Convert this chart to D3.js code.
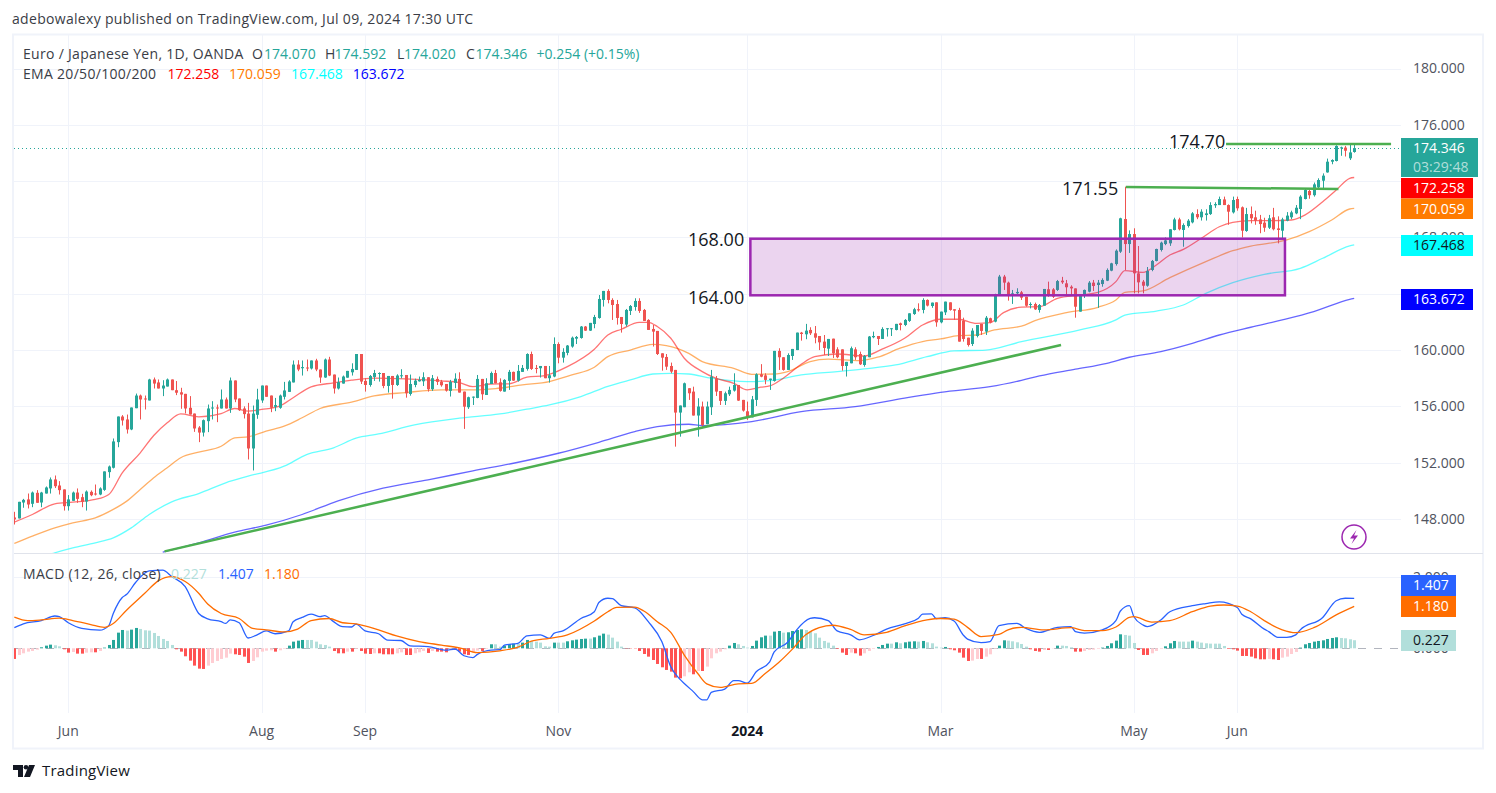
<!DOCTYPE html>
<html>
<head>
<meta charset="utf-8">
<script src="https://cdn.jsdelivr.net/npm/d3@7"></script>
<style>
  html, body { margin: 0; padding: 0; background: #fff; }
  svg { display: block; }
  text { font-family: "Open Sans", Roboto, "Liberation Sans", sans-serif; }
</style>
</head>
<body>
<svg id="chart" width="1496" height="793"></svg>
<script>
// daily candles, 10 per row
var opens = [
  148.11,148.04,149.17,149.39,149.08,149.86,149.17,149.81,150.17,150.81,
  150.38,150.10,148.91,149.29,149.88,149.55,149.24,149.93,149.81,149.74,
  150.07,151.33,151.64,153.46,155.28,155.07,154.36,155.87,156.77,156.56,
  156.42,157.91,157.70,157.27,157.41,157.91,157.15,157.00,156.89,155.90,
  155.49,154.50,154.14,154.95,155.85,155.92,155.85,156.49,155.85,157.84,
  156.56,155.85,155.49,153.01,155.40,156.42,157.48,156.77,155.97,155.90,
  156.68,157.03,157.70,158.97,158.71,158.76,158.69,159.26,158.62,158.05,
  159.33,158.26,157.27,157.62,158.04,158.42,158.59,159.72,157.81,157.52,
  158.09,158.30,158.37,157.45,158.16,157.52,158.16,158.23,156.88,157.52,
  157.78,157.78,158.07,157.22,157.95,157.76,157.59,157.10,157.67,157.95,
  157.05,155.94,156.65,156.60,157.95,156.81,157.59,158.37,157.71,157.05,
  157.81,158.45,157.83,158.45,158.66,159.72,158.73,158.71,158.87,158.00,
  158.12,160.43,159.46,159.80,160.25,160.81,160.86,161.67,161.38,161.85,
  162.28,163.56,164.20,163.56,163.27,162.35,161.81,162.78,163.06,163.49,
  162.85,162.14,161.50,161.36,159.77,159.51,158.87,158.59,155.56,155.94,
  157.29,157.05,155.35,155.99,154.73,155.94,157.99,157.09,156.39,156.86,
  157.12,157.52,156.46,155.65,155.22,156.46,158.28,158.20,157.88,157.81,
  159.94,159.49,158.59,159.58,160.00,161.24,161.12,161.43,161.19,161.00,
  160.60,160.10,160.81,160.05,160.05,158.87,159.06,160.05,159.72,158.94,
  159.49,160.91,161.00,160.79,161.50,161.50,161.43,161.90,161.78,162.07,
  162.56,162.90,162.85,163.56,163.13,163.39,161.97,162.68,163.39,162.90,
  162.85,162.09,160.88,160.43,161.00,161.86,161.31,162.26,162.02,163.87,
  165.22,164.79,163.87,164.03,164.10,163.79,163.20,163.27,162.85,163.15,
  164.32,164.31,164.27,164.93,164.74,164.50,164.38,162.73,163.84,164.15,
  164.79,164.62,164.69,164.93,165.64,166.11,166.99,169.31,167.53,168.24,
  165.45,164.86,164.57,165.69,166.33,167.11,167.53,167.58,168.53,169.28,
  168.53,168.81,169.07,169.66,169.43,169.59,169.66,170.28,170.30,170.70,
  170.30,169.78,170.73,170.14,168.46,169.66,169.43,169.28,169.05,168.69,
  169.43,168.64,168.48,169.19,169.43,169.71,170.02,170.73,171.30,171.00,
  171.56,172.03,172.62,173.38,173.43,174.36,174.38,173.62,174.07
];
var highs = [
  148.51,149.22,149.43,149.81,149.95,150.05,149.93,150.31,150.95,151.09,
  150.69,150.10,149.70,149.95,150.17,149.79,150.03,150.03,150.45,150.25,
  151.38,151.80,153.72,155.28,155.38,155.42,155.92,156.91,156.84,156.77,
  157.96,158.05,157.91,157.86,157.98,157.91,157.80,157.32,156.89,156.73,
  155.49,154.60,155.07,156.13,156.37,156.13,157.20,156.63,158.05,157.84,
  156.56,156.00,156.25,156.06,157.25,157.48,157.48,156.77,156.60,156.84,
  157.74,157.86,159.26,159.28,159.26,159.33,159.26,159.38,158.62,159.40,
  159.52,158.26,158.05,158.19,158.52,159.06,159.72,159.72,158.00,158.23,
  158.59,158.42,158.37,158.16,158.16,158.28,158.64,158.23,158.26,157.97,
  158.12,158.42,158.07,158.23,158.12,157.88,157.59,157.88,158.35,158.42,
  157.05,156.69,156.70,158.23,157.95,158.00,158.47,158.59,157.99,157.93,
  158.59,158.47,158.94,158.94,159.77,159.89,158.94,158.87,158.87,158.87,
  160.90,160.55,160.13,160.36,160.96,161.00,161.71,161.71,161.93,162.50,
  163.91,164.20,164.32,163.68,163.56,162.35,162.92,163.20,163.68,163.68,
  162.92,162.19,161.78,161.36,159.77,159.72,159.11,158.59,156.06,157.69,
  157.29,157.40,156.58,156.34,156.34,158.59,158.16,157.09,157.05,157.40,
  158.35,157.52,156.46,156.34,156.74,158.35,159.00,158.35,157.97,159.94,
  160.13,159.49,159.77,160.08,161.24,161.29,161.86,161.62,161.71,161.00,
  161.07,160.79,160.81,160.20,160.05,159.16,160.25,160.20,159.89,159.65,
  161.00,161.31,161.00,161.62,161.55,161.55,161.86,161.95,162.20,162.61,
  163.00,163.32,163.68,163.60,163.37,163.39,162.73,163.44,163.39,162.90,
  163.00,162.30,160.88,161.55,161.78,161.86,162.42,162.30,164.00,165.34,
  165.34,164.86,164.27,164.39,164.20,163.79,163.39,163.37,163.27,164.34,
  164.86,164.40,164.98,165.20,164.98,164.60,164.38,163.96,164.30,164.90,
  164.98,164.98,165.10,165.80,166.20,167.15,169.40,171.60,168.50,168.65,
  167.39,164.98,165.90,166.40,167.20,167.70,168.00,168.58,169.40,169.40,
  169.00,169.30,169.80,170.00,170.00,170.00,170.50,170.50,170.90,170.90,
  170.35,170.90,170.90,170.20,170.10,170.20,169.90,169.60,169.40,169.60,
  170.10,169.50,169.40,169.80,169.90,170.30,171.00,171.45,171.40,171.90,
  172.20,172.55,173.60,173.55,174.55,174.45,174.50,174.65,174.592
];
var lows = [
  147.61,148.04,148.80,148.75,148.84,149.15,148.84,149.81,149.81,150.20,
  149.74,148.60,148.60,149.29,149.15,148.84,148.60,149.62,149.67,149.69,
  150.00,150.93,151.59,153.10,154.64,154.07,154.31,155.87,155.07,155.78,
  156.42,157.27,157.27,156.73,157.41,157.15,156.80,155.83,155.50,155.42,
  154.19,153.46,153.86,154.17,155.07,154.88,155.85,155.85,155.54,156.30,
  155.68,155.14,152.23,151.45,155.12,156.25,156.68,155.59,155.66,155.83,
  156.49,157.03,157.70,158.50,158.19,158.50,158.62,158.50,157.67,158.03,
  158.15,156.91,157.20,157.62,158.04,158.19,158.59,157.59,157.05,157.40,
  157.81,157.76,157.29,156.98,156.55,157.45,157.99,156.62,156.76,157.36,
  157.76,157.45,157.05,157.10,157.52,157.40,157.05,156.70,157.29,156.98,
  154.40,155.82,156.10,156.58,156.46,156.81,157.59,157.64,157.05,157.05,
  157.17,157.81,157.76,158.45,158.54,158.59,158.35,158.05,158.00,157.69,
  158.07,159.06,159.11,159.63,160.17,160.43,160.81,161.36,161.36,161.55,
  162.23,163.09,163.32,162.14,161.81,161.24,161.67,162.49,162.80,162.64,
  162.07,161.43,160.25,159.65,158.54,158.59,158.35,153.14,153.85,155.94,
  156.46,155.35,153.85,154.45,154.73,155.39,156.74,156.10,156.10,156.74,
  157.05,156.39,155.63,155.04,155.22,156.03,158.07,157.57,157.17,157.76,
  158.59,158.54,158.59,159.30,160.00,160.67,160.77,161.07,160.48,160.00,
  159.65,159.58,159.44,159.42,158.54,158.12,159.06,159.30,158.94,158.82,
  159.49,160.84,160.36,160.79,160.96,161.00,161.40,161.40,161.70,162.00,
  162.50,162.73,162.61,163.10,163.00,161.66,161.90,162.49,162.80,162.14,
  160.60,160.60,160.25,160.29,160.90,161.07,161.07,161.90,161.97,163.87,
  164.27,163.51,163.28,163.98,163.56,163.08,162.96,162.85,162.66,163.15,
  163.79,163.70,164.20,164.70,163.87,163.87,162.30,162.73,163.70,164.10,
  164.20,163.00,164.50,164.90,165.60,166.00,166.90,165.69,166.90,164.03,
  164.03,164.03,164.50,165.60,166.30,167.00,167.45,167.40,168.50,168.50,
  167.34,168.70,169.00,169.30,169.20,169.20,169.60,170.10,170.30,170.30,
  168.90,169.70,169.90,168.00,168.40,169.00,168.90,168.30,168.40,168.60,
  168.50,167.58,167.93,169.15,169.30,169.65,169.30,170.70,170.75,170.90,
  171.40,171.50,172.60,173.20,173.40,173.80,173.75,173.50,174.02
];
var closes = [
  147.97,149.22,149.36,149.03,149.88,149.15,149.88,150.24,150.81,150.33,
  150.05,148.91,149.39,149.88,149.43,149.22,149.95,149.69,149.74,150.17,
  151.38,151.73,153.51,155.28,155.00,154.36,155.92,156.77,156.49,156.49,
  157.91,157.62,157.27,157.48,157.91,157.15,156.97,156.84,155.85,155.42,
  154.43,154.14,155.02,155.85,155.92,155.85,156.49,155.85,157.84,156.49,
  155.73,155.45,153.01,155.49,156.49,157.48,156.68,155.90,156.09,156.77,
  157.13,157.77,158.97,158.62,158.79,158.69,159.26,158.62,158.05,159.33,
  158.19,157.27,157.72,158.12,158.52,158.66,159.72,157.76,157.52,158.16,
  158.37,158.37,157.45,158.16,157.52,158.19,158.21,156.93,157.59,157.83,
  157.88,158.07,157.22,158.00,157.74,157.50,157.12,157.74,157.97,156.98,
  155.98,156.65,156.69,157.95,156.86,157.64,158.37,157.64,157.10,157.88,
  158.45,157.83,158.52,158.73,159.72,158.66,158.68,158.87,158.00,158.21,
  160.43,159.46,159.87,160.32,160.88,160.93,161.67,161.38,161.93,162.35,
  163.63,164.20,163.56,163.20,162.28,161.85,162.85,163.13,163.49,162.78,
  162.07,161.43,161.31,159.72,159.46,158.82,158.47,155.56,156.06,157.64,
  156.93,155.35,155.99,154.68,155.99,158.11,157.05,156.39,156.93,157.17,
  157.52,156.41,155.70,155.27,156.50,158.28,158.11,157.88,157.97,159.94,
  159.49,158.59,159.65,160.08,161.24,161.14,161.38,161.19,160.88,160.55,
  160.15,160.79,159.77,159.49,158.87,159.16,160.13,159.49,158.99,159.58,
  160.96,161.00,160.79,161.50,161.55,161.55,161.86,161.78,162.14,162.61,
  162.90,162.82,163.56,163.16,163.37,161.97,162.73,163.44,162.85,162.80,
  160.60,160.79,160.36,161.38,161.78,161.36,162.30,161.97,163.96,165.22,
  164.79,163.87,164.03,164.13,163.72,163.15,163.27,162.89,163.20,164.34,
  163.87,163.79,164.90,164.81,164.46,164.38,163.08,163.91,164.27,164.79,
  164.55,164.79,164.98,165.69,166.16,167.06,169.36,167.53,168.24,165.45,
  164.81,164.57,165.62,166.33,167.18,167.63,167.79,168.58,169.28,168.58,
  168.88,169.19,169.71,169.43,169.83,169.71,170.30,170.37,170.73,170.30,
  169.83,170.66,170.07,168.48,169.66,169.36,169.19,168.95,168.69,169.36,
  168.58,168.53,169.28,169.55,169.78,170.11,170.90,171.37,171.00,171.77,
  172.08,172.39,173.38,173.50,174.50,174.40,174.16,174.04,174.346
];

// moving averages, read at the bars where the curve bends
var ema20Bars = [0,4,9,13,18,21,24,28,31,34,37,41,46,49,52,55,59,62,66,71,75,80,87,95,99,102,106,110,114,118,123,129,132,135,139,141,143,146,149,153,156,160,163,166,168,171,175,178,183,189,193,198,202,206,210,214,217,220,224,228,232,237,241,245,247,251,254,257,260,264,268,271,275,280,284,287,291,294,297,298];
var ema20Vals = [147.78,148.32,149.08,149.20,149.39,149.74,151.28,152.70,153.93,154.83,155.47,155.26,155.49,155.85,155.66,155.78,156.02,156.61,157.39,157.67,157.86,158.00,157.95,157.81,157.69,157.40,157.59,157.60,158.07,158.19,158.82,160.06,161.07,161.48,161.97,161.97,161.67,160.84,159.42,158.47,158.00,157.64,157.17,157.36,157.45,158.00,158.99,159.53,159.72,159.58,160.06,160.84,161.78,162.19,162.19,161.90,161.95,162.66,163.05,163.08,163.67,163.91,164.10,164.86,165.64,165.52,166.04,166.75,167.15,167.94,168.76,169.07,169.19,169.19,169.24,169.59,170.54,171.37,172.20,172.258];
var ema50Bars = [0,4,9,13,18,22,25,28,31,34,37,41,46,49,52,56,60,64,68,75,80,87,95,102,107,113,119,124,129,132,137,142,145,150,153,160,164,169,172,177,181,188,192,197,202,206,210,214,218,224,227,234,241,245,247,251,257,265,271,275,283,288,293,297,298];
var ema50Vals = [146.26,146.78,147.37,147.73,148.08,148.68,149.27,150.10,150.93,151.64,152.35,152.75,153.17,153.77,153.84,154.24,154.59,155.19,155.85,156.30,156.74,156.98,157.17,157.17,157.26,157.52,157.76,158.23,158.78,159.53,160.00,160.41,160.32,159.77,159.18,158.70,158.28,158.30,158.47,159.18,159.35,159.25,159.49,160.13,160.60,160.79,161.03,161.07,161.43,161.70,162.09,162.66,163.04,163.56,164.10,164.20,165.14,166.28,167.06,167.39,167.82,168.41,169.24,170.02,170.059];
var ema100Bars = [0,9,13,18,22,26,30,35,41,47,52,60,65,71,76,81,89,99,108,114,119,126,132,137,142,146,150,155,163,168,175,183,189,196,203,209,216,224,237,245,247,254,260,265,271,278,286,291,297,298];
var ema100Vals = [144.60,145.60,145.95,146.31,146.66,147.37,148.32,149.22,149.81,150.57,151.04,151.75,152.58,153.06,153.74,154.04,154.68,155.16,155.46,155.80,156.10,156.70,157.42,157.88,158.30,158.35,158.30,158.00,157.76,157.83,158.23,158.47,158.66,158.94,159.53,159.94,160.00,160.60,161.43,162.14,162.49,162.77,163.20,164.03,164.79,165.38,165.81,166.52,167.40,167.468];
var ema200Bars = [33,41,49,56,64,72,82,92,102,111,121,130,138,143,150,153,164,175,187,198,206,217,224,228,236,243,248,255,262,268,275,282,289,297,298];
var ema200Vals = [145.65,146.31,147.07,147.56,148.32,149.29,150.19,150.78,151.42,151.96,152.67,153.45,154.21,154.56,154.73,154.63,154.92,155.63,155.98,156.58,157.00,157.40,157.85,158.16,158.64,159.06,159.49,159.89,160.48,161.07,161.62,162.14,162.73,163.60,163.672];

// MACD pane
var macdBars = [0,2,6,9,10,12,15,19,21,22,24,25,27,30,33,35,38,41,43,46,47,48,50,52,54,56,58,61,62,64,66,68,69,71,73,75,76,78,81,83,86,88,92,96,98,100,102,103,106,108,109,112,114,117,119,120,122,126,129,130,132,133,135,138,141,144,146,148,149,151,153,154,155,158,160,161,163,165,168,169,172,174,177,178,181,183,186,188,191,194,198,201,202,204,205,207,209,211,212,215,217,219,223,225,228,232,235,236,238,242,245,246,248,249,251,252,255,257,262,265,268,272,273,275,278,279,281,283,285,286,291,294,296,298];
var macdVals = [0.58,0.69,0.78,0.91,0.89,0.72,0.56,0.51,0.64,0.98,1.43,1.52,1.86,2.18,2.20,2.02,1.74,0.98,0.83,0.75,0.70,0.80,0.72,0.29,0.38,0.49,0.41,0.49,0.75,0.87,0.96,0.89,0.92,0.75,0.61,0.60,0.68,0.49,0.41,0.23,0.22,0.07,0.05,-0.05,-0.02,-0.21,-0.26,-0.17,-0.05,-0.04,0.09,0.14,0.35,0.38,0.28,0.42,0.49,0.84,1.03,1.29,1.41,1.40,1.20,1.14,0.75,0.19,-0.52,-0.87,-0.99,-1.22,-1.45,-1.45,-1.24,-1.15,-0.91,-0.91,-0.98,-0.66,-0.38,-0.10,0.17,0.52,0.84,0.86,0.78,0.49,0.38,0.24,0.36,0.54,0.69,0.84,0.96,0.97,0.84,0.86,0.77,0.38,0.26,0.16,0.19,0.64,0.70,0.56,0.45,0.59,0.61,0.47,0.43,0.52,0.78,1.05,1.20,0.89,0.66,0.61,0.80,1.03,1.20,1.26,1.31,1.15,0.96,0.83,0.54,0.47,0.31,0.31,0.38,0.52,0.87,1.34,1.41,1.407];
var signalBars = [0,3,6,10,13,17,20,22,25,29,32,35,38,41,43,46,50,53,56,60,63,66,70,73,76,81,85,90,95,99,103,108,112,115,119,123,129,132,134,138,140,143,146,149,152,154,157,161,164,167,170,173,176,179,182,186,189,194,198,203,206,209,212,215,219,221,224,229,235,238,242,245,248,249,253,257,262,266,269,272,275,278,282,285,289,294,298];
var signalVals = [0.88,0.78,0.80,0.85,0.78,0.67,0.59,0.70,1.08,1.55,1.90,2.02,1.88,1.55,1.25,0.98,0.84,0.56,0.52,0.46,0.54,0.78,0.84,0.72,0.69,0.52,0.35,0.19,0.09,0.01,-0.12,-0.07,0.03,0.20,0.28,0.38,0.77,1.03,1.15,1.16,1.05,0.75,0.45,-0.19,-0.71,-1.00,-1.10,-1.00,-0.99,-0.71,-0.40,-0.03,0.38,0.58,0.65,0.53,0.38,0.45,0.63,0.80,0.84,0.82,0.59,0.33,0.39,0.52,0.59,0.52,0.58,0.50,0.50,0.60,0.87,0.89,0.74,0.78,1.03,1.19,1.22,1.19,1.03,0.78,0.52,0.44,0.58,0.94,1.18];
var histVals = [
  -.300,-.188,-.141,-.094,-.075,-.038,.028,.075,.103,.085,
  .056,-.028,-.122,-.103,-.150,-.150,-.122,-.113,-.113,-.075,
  .019,.094,.235,.441,.516,.498,.526,.573,.545,.507,
  .498,.432,.347,.263,.207,.094,-.028,-.094,-.225,-.347,
  -.488,-.573,-.582,-.488,-.413,-.357,-.300,-.263,-.150,-.169,
  -.188,-.235,-.413,-.357,-.254,-.094,-.066,-.056,-.094,-.056,
  -.019,.075,.188,.216,.235,.235,.235,.188,.113,.094,
  .047,-.075,-.141,-.141,-.094,-.094,-.019,-.075,-.150,-.160,
  -.141,-.141,-.169,-.169,-.169,-.141,-.113,-.188,-.188,-.141,
  -.113,-.075,-.131,-.075,-.094,-.094,-.113,-.047,-.047,-.094,
  -.169,-.188,-.094,-.066,-.075,-.019,.113,.113,.047,.075,
  .122,.131,.131,.160,.235,.207,.188,.160,.056,.047,
  .160,.160,.160,.197,.225,.244,.263,.272,.272,.310,
  .357,.413,.385,.300,.188,.047,-.009,-.009,-.009,-.075,
  -.160,-.235,-.329,-.441,-.535,-.610,-.657,-.826,-.845,-.789,
  -.676,-.732,-.639,-.639,-.516,-.282,-.141,-.094,-.028,.075,
  .150,.113,.066,.019,.066,.216,.310,.357,.357,.470,
  .488,.441,.451,.488,.516,.535,.516,.470,.423,.300,
  .207,.160,.075,-.019,-.122,-.188,-.122,-.141,-.207,-.141,
  -.075,-.019,.038,.094,.131,.131,.169,.141,.169,.188,
  .197,.188,.207,.169,.141,.047,.019,.038,-.028,-.056,
  -.122,-.263,-.357,-.347,-.300,-.300,-.235,-.169,-.019,.075,
  .225,.216,.197,.169,.122,.047,-.028,-.075,-.094,-.047,
  -.047,-.009,.075,.075,.066,.028,-.094,-.094,-.075,-.047,
  -.038,-.019,.019,.066,.141,.216,.394,.376,.357,.150,
  -.047,-.188,-.188,-.141,-.075,-.019,.056,.141,.207,.188,
  .188,.188,.216,.188,.160,.141,.131,.131,.131,.066,
  -.019,-.028,-.066,-.216,-.216,-.235,-.282,-.310,-.310,-.300,
  -.310,-.329,-.263,-.235,-.160,-.103,.019,.113,.150,.188,
  .207,.225,.263,.291,.310,.291,.282,.254,.227
];

// axes, 172 and 164 have their grid line but the boxes hide their labels
var priceTicks = [180,176,172,168,164,160,156,152,148];
var priceLabels = [180,176,168,160,156,152,148];
var macdTicks = [2,0];
var timeTickBars = [12,55,78,121,163,206,249,272];
var timeTickLabels = ["Jun","Aug","Sep","Nov","2024","Mar","May","Jun"];

// drawings on the chart
var trendFrom = [33.4,145.7], trendTo = [232.8,160.36];
var resistOld = [[247.2,171.58],[294.5,171.44]];
var resistNew = [[269.5,174.64],[306.2,174.64]];
var zoneBars = [163.7,282.6], zonePrices = [167.91,163.89];

var svg = d3.select("#chart");

var x = d3.scaleLinear().domain([0,298]).range([14.35,1354.2]);
var y = d3.scaleLinear().domain([148,180]).range([519,68.5]);
var ym = d3.scaleLinear().domain([0,2]).range([648.3,577.3]);

var gridCol = "#f0f3fa";
var up = "#26a69a", down = "#ef5350";
var tickCol = "#50535e";

// clip each pane
var defs = svg.append("defs");
defs.append("clipPath").attr("id","mainClip").append("rect").attr("x",14).attr("y",35).attr("width",1387).attr("height",518);
defs.append("clipPath").attr("id","macdClip").append("rect").attr("x",14).attr("y",554).attr("width",1387).attr("height",159);

// grid
var grid = svg.append("g");
grid.selectAll(".hgrid").data(priceTicks).enter().append("line")
  .attr("x1",14).attr("x2",1401)
  .attr("y1",d => Math.round(y(d))+.5).attr("y2",d => Math.round(y(d))+.5)
  .attr("stroke",gridCol);
grid.append("line").attr("x1",14).attr("x2",1401).attr("y1",577.5).attr("y2",577.5).attr("stroke",gridCol);
grid.selectAll(".vgrid").data(timeTickBars).enter().append("line")
  .attr("x1",d => Math.round(x(d))+.5).attr("x2",d => Math.round(x(d))+.5)
  .attr("y1",35).attr("y2",713)
  .attr("stroke",gridCol);

// frame and pane separator
svg.append("rect").attr("x",13).attr("y",34.5).attr("width",1470).attr("height",714)
  .attr("fill","none").attr("stroke",gridCol).attr("stroke-width",2);
svg.append("line").attr("x1",14).attr("x2",1483).attr("y1",553.5).attr("y2",553.5).attr("stroke","#e0e3eb");

var main = svg.append("g").attr("clip-path","url(#mainClip)");

// last price dotted line
main.append("line").attr("x1",14).attr("x2",1401)
  .attr("y1",Math.round(y(174.346))+.5).attr("y2",Math.round(y(174.346))+.5)
  .attr("stroke",up).attr("stroke-dasharray","1,3");

// ema lines
function drawLine(g, bars, vals, scale, col, op) {
  g.append("path")
    .datum(d3.zip(bars,vals))
    .attr("fill","none").attr("stroke",col).attr("stroke-opacity",op).attr("stroke-width",1.3)
    .attr("d",d3.line().curve(d3.curveMonotoneX).x(d => x(d[0])).y(d => scale(d[1])));
}
drawLine(main,ema200Bars,ema200Vals,y,"#0000ff",.6);
drawLine(main,ema100Bars,ema100Vals,y,"#00ffff",.6);
drawLine(main,ema50Bars,ema50Vals,y,"#ff7b00",.6);
drawLine(main,ema20Bars,ema20Vals,y,"#ff0000",.55);

// candles
var candles = main.selectAll(".candle").data(d3.range(opens.length)).enter().append("g");
candles.append("rect")
  .attr("x",i => Math.round(x(i)))
  .attr("width",1)
  .attr("y",i => y(highs[i]))
  .attr("height",i => y(lows[i])-y(highs[i]))
  .attr("fill",i => closes[i]>=opens[i] ? up : down);
candles.append("rect")
  .attr("x",i => Math.round(x(i))-1)
  .attr("width",3)
  .attr("y",i => y(Math.max(opens[i],closes[i])))
  .attr("height",i => Math.max(1,Math.abs(y(opens[i])-y(closes[i]))))
  .attr("fill",i => closes[i]>=opens[i] ? up : down);

// zone and trend lines
main.append("rect")
  .attr("x",x(zoneBars[0])).attr("width",x(zoneBars[1])-x(zoneBars[0]))
  .attr("y",y(zonePrices[0])).attr("height",y(zonePrices[1])-y(zonePrices[0]))
  .attr("fill","#9c27b0").attr("fill-opacity",.2)
  .attr("stroke","#9c27b0").attr("stroke-width",2.5);
var anno = d3.line().x(d => x(d[0])).y(d => y(d[1]));
[[trendFrom,trendTo],resistOld,resistNew].forEach(function(seg) {
  main.append("path").attr("d",anno(seg)).attr("stroke","#4caf50").attr("stroke-width",2.5).attr("fill","none");
});

// level labels
var levelText = ["168.00","164.00","171.55","174.70"];
var levelX = [688,688,1062,1169], levelY = [240,298,189,142];
svg.selectAll(".level").data(levelText).enter().append("text")
  .attr("x",(d,i) => levelX[i]).attr("y",(d,i) => levelY[i]).attr("dy",".35em")
  .attr("font-size",18).attr("fill","#131722").text(d => d);

// macd pane
var macdG = svg.append("g").attr("clip-path","url(#macdClip)");
macdG.append("line").attr("x1",14).attr("x2",1401).attr("y1",648.5).attr("y2",648.5)
  .attr("stroke","#b2b5be").attr("stroke-dasharray","8,8");
macdG.selectAll(".hist").data(histVals).enter().append("rect")
  .attr("x",(d,i) => Math.round(x(i))-1).attr("width",3)
  .attr("y",d => Math.min(ym(d),ym(0)))
  .attr("height",d => Math.abs(ym(d)-ym(0)))
  .attr("fill",function(d,i) {
    var rising = i>0 && d>histVals[i-1];
    if (d>=0) return rising ? up : "#b2dfdb";
    return rising ? "#ffcdd2" : "#ff5252";
  });
drawLine(macdG,macdBars,macdVals,ym,"#2962ff",1);
drawLine(macdG,signalBars,signalVals,ym,"#ff6d00",1);

// price axis labels, the boxes sit on top of them
svg.selectAll(".ptick").data(priceLabels).enter().append("text")
  .attr("x",1413).attr("y",d => y(d)).attr("dy",".35em")
  .attr("font-size",14).attr("fill",tickCol).text(d => d.toFixed(3));
svg.selectAll(".mtick").data(macdTicks).enter().append("text")
  .attr("x",1413).attr("y",d => ym(d)).attr("dy",".35em")
  .attr("font-size",14).attr("fill",tickCol).text(d => d.toFixed(3));

function box(val, yTop, h, w, bg, fg) {
  svg.append("rect").attr("x",1401).attr("y",yTop).attr("width",w).attr("height",h).attr("fill",bg);
  svg.append("text").attr("x",1413).attr("y",yTop+h/2).attr("dy",".35em")
    .attr("font-size",14).attr("fill",fg).text(val);
}
box("172.258",178,20.5,72,"#ff0000","#fff");
box("170.059",198.5,20.5,72,"#ff7b00","#fff");
box("167.468",235,21,72,"#00ffff","#131722");
box("163.672",289,21,72,"#0000ff","#fff");
box("1.407",575,21,55,"#2962ff","#fff");
box("1.180",596,21,55,"#ff6d00","#fff");
box("0.227",630,21,55,"#b2dfdb","#131722");

// last price box with countdown
svg.append("rect").attr("x",1401).attr("y",138).attr("width",77).attr("height",39).attr("fill",up);
svg.append("text").attr("x",1413).attr("y",148).attr("dy",".35em").attr("font-size",14).attr("fill","#fff").text("174.346");
svg.append("text").attr("x",1413).attr("y",167).attr("dy",".35em").attr("font-size",14).attr("fill","#fff").attr("fill-opacity",.65).text("03:29:48");

// time axis labels
svg.selectAll(".ttick").data(timeTickLabels).enter().append("text")
  .attr("x",(d,i) => x(timeTickBars[i])).attr("y",731).attr("dy",".35em")
  .attr("text-anchor","middle").attr("font-size",14)
  .attr("font-weight",d => d=="2024" ? "bold" : "normal")
  .attr("fill",d => d=="2024" ? "#131722" : tickCol)
  .text(d => d);

// header and legends
function label(txt, px, py, col, size) {
  return svg.append("text").attr("x",px).attr("y",py).attr("dy",".35em")
    .attr("font-size",size || 14).attr("fill",col).text(txt);
}
label("adebowalexy published on TradingView.com, Jul 09, 2024 17:30 UTC",12,19,"#3a3d46").attr("letter-spacing",.31);
label("Euro / Japanese Yen, 1D, OANDA",23,54,"#3a3d46").attr("letter-spacing",.3);
label("O",252,54,"#3a3d46"); label("174.070",264,54,up);
label("H",325,54,"#3a3d46"); label("174.592",334.6,54,up);
label("L",397,54,"#3a3d46"); label("174.020",404,54,up);
label("C",466,54,"#3a3d46"); label("174.346",475.6,54,up);
label("+0.254 (+0.15%)",536.6,54,up);
label("EMA 20/50/100/200",23,74,"#3a3d46").attr("letter-spacing",.3);
label("172.258",167.5,74,"#ff0000");
label("170.059",229,74,"#ff7b00");
label("167.468",291,74,"#00ffff");
label("163.672",352.7,74,"#0000ff");
label("MACD (12, 26, close)",23,574,"#3a3d46").attr("letter-spacing",.3);
label("0.227",171,574,"#b2dfdb");
label("1.407",218,574,"#2962ff");
label("1.180",264,574,"#ff6d00");

// lightning badge
svg.append("circle").attr("cx",1354).attr("cy",537).attr("r",12)
  .attr("fill","#fff").attr("stroke","#9c27b0").attr("stroke-width",1.5);
svg.append("path").attr("d","M1356.5 530 L1350 538.5 L1354 538.5 L1351.5 544 L1358 535.5 L1354 535.5 Z")
  .attr("fill","#9c27b0");

// TradingView mark
svg.append("path").attr("fill","#131722")
  .attr("d","M13 765 H23 V777 H18 V770 H13 Z M29 765 H35 L30 777 H24 Z");
svg.append("circle").attr("cx",26).attr("cy",767.3).attr("r",2.3).attr("fill","#131722");
label("TradingView",42,771,"#131722",15).attr("letter-spacing",.2);
</script>
</body>
</html>
